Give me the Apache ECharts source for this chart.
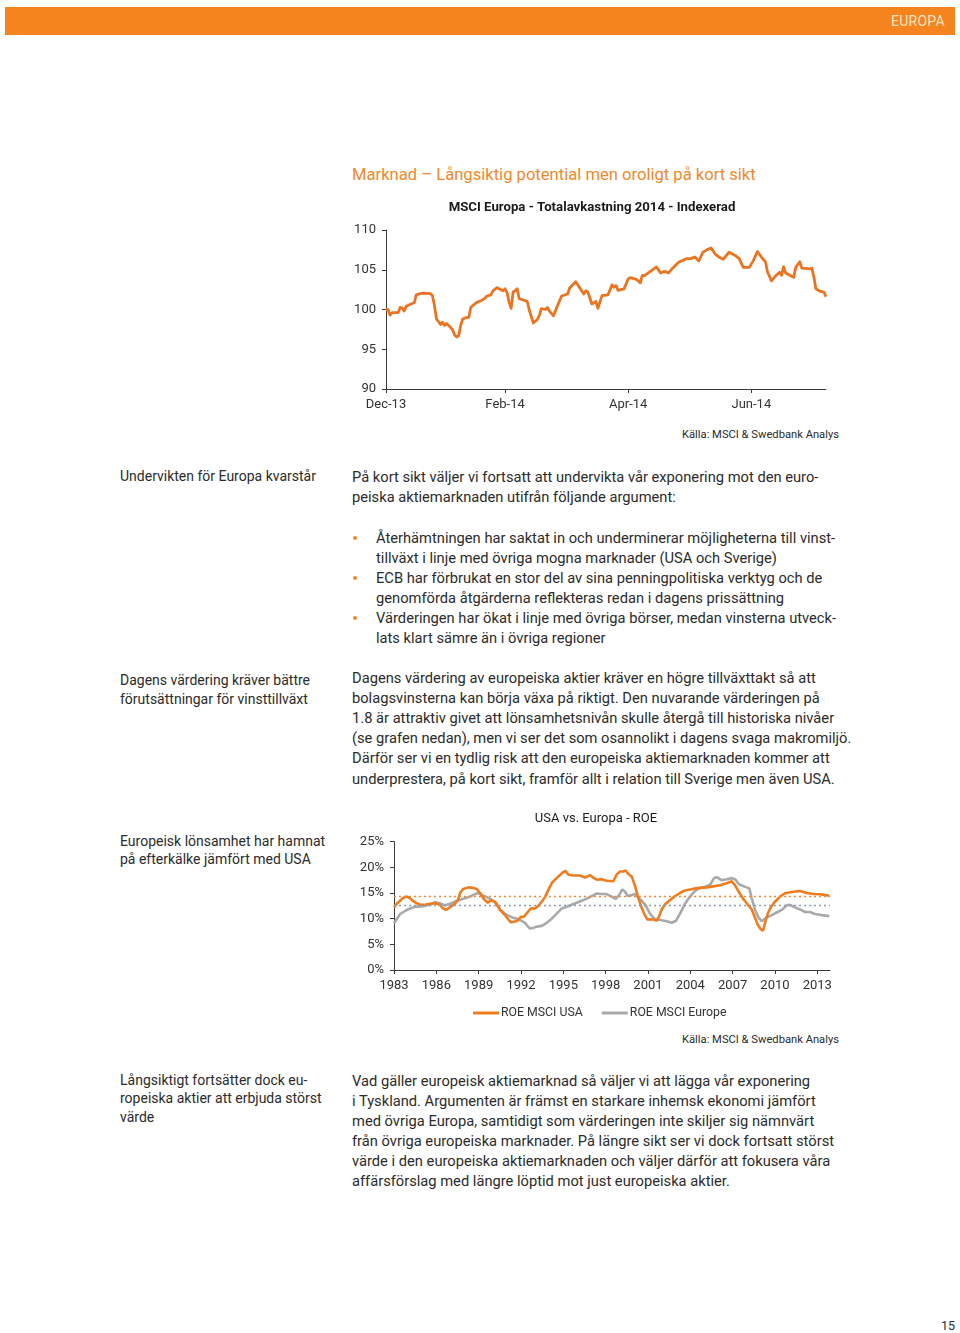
<!DOCTYPE html>
<html>
<head>
<meta charset="utf-8">
<script src="https://cdn.jsdelivr.net/npm/echarts@6/dist/echarts.min.js"></script>
<style>
  html, body { margin: 0; padding: 0; background: #fff; }
  body { width: 960px; height: 1333px; position: relative; overflow: hidden; font-family: Roboto, "Noto Sans", sans-serif; color: #2b2b2b; }
  .t { position: absolute; white-space: nowrap; line-height: 20px; height: 20px; }
  .body { font-size: 14.7px; }
  .side { font-size: 14px; }
  .dot { position: absolute; width: 4px; height: 4px; border-radius: 2px; background: #f0892a; }
  #bar { position: absolute; left: 5px; top: 7px; width: 950px; height: 28px; background: #f5841f; }
  #bar span { position: absolute; right: 10px; top: 6px; font-size: 14px; color: #fde3c2; letter-spacing: 0.3px; }
  #c1 { position: absolute; left: 340px; top: 195px; width: 510px; height: 225px; }
  #c2 { position: absolute; left: 340px; top: 800px; width: 510px; height: 232px; }
</style>
</head>
<body>
<div id="bar"><span>EUROPA</span></div>
<div id="texts"></div>
<div id="c1"></div>
<div id="c2"></div>
<script>
// ---------- Chart 1 data: MSCI Europa total return 2014, indexed ----------
const msciDates = [
 '2013-12-31','2014-01-01','2014-01-02','2014-01-03','2014-01-06','2014-01-07','2014-01-08','2014-01-09','2014-01-10','2014-01-13',
 '2014-01-14','2014-01-15','2014-01-17','2014-01-18','2014-01-22','2014-01-23','2014-01-24','2014-01-25','2014-01-26','2014-01-27',
 '2014-01-28','2014-01-29','2014-01-30','2014-01-31','2014-02-02','2014-02-03','2014-02-04','2014-02-05','2014-02-06','2014-02-07',
 '2014-02-09','2014-02-10','2014-02-11','2014-02-12','2014-02-14','2014-02-16','2014-02-18','2014-02-19','2014-02-21','2014-02-22',
 '2014-02-24','2014-02-25','2014-02-27','2014-02-28','2014-03-01','2014-03-02','2014-03-03','2014-03-04','2014-03-05','2014-03-06',
 '2014-03-07','2014-03-09','2014-03-11','2014-03-12','2014-03-14','2014-03-16','2014-03-17','2014-03-18','2014-03-20','2014-03-21',
 '2014-03-22','2014-03-24','2014-03-26','2014-03-28','2014-03-31','2014-04-01','2014-04-04','2014-04-05','2014-04-08','2014-04-09',
 '2014-04-10','2014-04-12','2014-04-14','2014-04-15','2014-04-17','2014-04-20','2014-04-22','2014-04-23','2014-04-24','2014-04-25',
 '2014-04-28','2014-04-30','2014-05-01','2014-05-04','2014-05-06','2014-05-07','2014-05-08','2014-05-11','2014-05-14','2014-05-16',
 '2014-05-18','2014-05-20','2014-05-22','2014-05-25','2014-05-29','2014-05-31','2014-06-02','2014-06-04','2014-06-06','2014-06-08',
 '2014-06-10','2014-06-11','2014-06-12','2014-06-14','2014-06-16','2014-06-19','2014-06-22','2014-06-24','2014-06-26','2014-06-29',
 '2014-07-01','2014-07-03','2014-07-05','2014-07-07','2014-07-08','2014-07-10','2014-07-12','2014-07-14','2014-07-15','2014-07-16',
 '2014-07-17','2014-07-21','2014-07-22','2014-07-24','2014-07-25','2014-07-29','2014-07-30','2014-07-31','2014-08-01','2014-08-03',
 '2014-08-05','2014-08-06'
];
const msciValues = [
 100.0,100.0,99.3,99.6,99.6,100.25,100.2,99.8,100.4,100.75,
 100.85,101.85,102.0,102.05,102.0,101.75,100.5,98.8,98.5,98.1,
 98.4,98.0,98.25,98.0,97.45,96.8,96.55,96.7,98.0,98.8,
 99.0,99.0,100.25,100.5,100.9,101.1,101.4,101.7,101.85,102.35,
 102.75,102.6,102.35,102.6,102.1,100.9,100.15,102.2,102.35,102.6,
 101.35,101.2,101.0,99.9,98.3,98.75,99.25,100.1,100.0,100.25,
 99.8,99.2,100.5,101.7,101.95,102.7,103.5,103.1,101.95,102.35,
 102.2,100.7,101.0,100.15,101.75,101.85,103.1,102.8,103.0,102.4,
 102.6,103.85,104.0,103.8,103.35,104.3,104.25,104.8,105.35,104.6,
 104.8,104.6,105.2,105.95,106.4,106.4,106.6,106.1,107.2,107.5,
 107.75,107.4,107.0,106.6,106.3,107.2,106.8,106.4,105.3,105.3,
 106.15,107.3,106.6,106.0,104.75,103.6,104.2,104.7,104.3,105.4,
 104.6,104.05,105.3,106.0,105.2,105.1,105.2,104.05,102.6,102.3,
 102.2,101.6
];
const msciStartDate = '2013-12-31';
const msciEndDate = '2014-08-06';
const msciTickDates = ['2013-12-31','2014-02-28','2014-04-30','2014-06-30'];
const msciTickLabels = ['Dec-13','Feb-14','Apr-14','Jun-14'];

// ---------- Chart 2 data: ROE MSCI USA vs ROE MSCI Europe ----------
const usaYears = [
 1983.00,1983.19,1983.43,1983.66,1983.92,1984.13,1984.37,1984.61,1984.91,1985.20,
 1985.55,1985.91,1986.26,1986.47,1986.69,1986.90,1987.11,1987.32,1987.54,1987.68,
 1987.91,1988.27,1988.62,1988.86,1989.10,1989.38,1989.64,1989.87,1990.16,1990.51,
 1990.87,1991.11,1991.29,1991.50,1991.75,1991.97,1992.21,1992.48,1992.71,1992.99,
 1993.23,1993.47,1993.70,1993.99,1994.20,1994.41,1994.64,1995.00,1995.17,1995.35,
 1995.71,1996.18,1996.54,1996.89,1997.12,1997.37,1997.72,1998.07,1998.54,1998.78,
 1999.02,1999.25,1999.42,1999.61,1999.85,2000.08,2000.27,2000.51,2000.74,2000.97,
 2001.14,2001.45,2001.62,2001.78,2001.97,2002.21,2002.56,2002.92,2003.27,2003.62,
 2003.98,2004.33,2004.69,2005.16,2005.63,2006.10,2006.58,2006.93,2007.17,2007.40,
 2007.71,2008.00,2008.35,2008.59,2008.78,2009.01,2009.17,2009.29,2009.49,2009.72,
 2010.00,2010.36,2010.71,2011.19,2011.77,2012.25,2012.72,2013.19,2013.55,2013.85
];
const usaRoe = [
 12.2,12.9,13.5,14.1,14.3,14.0,13.4,13.0,12.7,12.7,
 12.9,13.0,12.7,12.0,11.7,12.1,12.5,12.9,13.7,15.0,
 15.8,16.1,16.0,15.8,15.0,13.8,13.1,13.6,13.3,11.7,
 10.7,9.8,9.3,9.4,9.6,10.3,10.4,11.3,12.0,12.0,
 12.5,13.3,14.2,15.9,17.0,17.6,18.2,19.1,19.3,18.6,
 18.4,18.4,18.0,18.5,18.0,17.6,17.7,17.4,17.3,18.6,
 19.2,19.2,19.4,18.7,18.2,16.4,14.5,12.4,10.9,9.8,
 9.9,9.8,9.6,10.4,11.8,12.8,13.6,14.4,15.0,15.5,
 15.7,15.9,16.0,16.1,16.3,16.5,16.9,17.3,16.5,15.4,
 14.0,13.0,11.8,10.2,8.8,7.9,7.7,9.1,11.0,12.3,
 13.3,14.3,14.95,15.2,15.4,15.0,14.8,14.75,14.6,14.5
];
const europeYears = [
 1983.00,1983.19,1983.43,1983.78,1984.13,1984.49,1984.84,1985.20,1985.55,1985.91,
 1986.26,1986.61,1986.97,1987.32,1987.68,1988.03,1988.39,1988.74,1988.97,1989.22,
 1989.57,1989.92,1990.28,1990.51,1990.82,1991.10,1991.34,1991.70,1992.00,1992.28,
 1992.48,1992.64,1992.85,1993.11,1993.47,1993.82,1994.18,1994.53,1994.89,1995.24,
 1995.59,1995.95,1996.30,1996.66,1997.01,1997.37,1997.72,1998.07,1998.43,1998.71,
 1998.95,1999.18,1999.37,1999.56,1999.85,2000.08,2000.31,2000.55,2000.84,2001.14,
 2001.43,2001.62,2001.97,2002.33,2002.68,2002.99,2003.27,2003.62,2003.98,2004.33,
 2004.69,2005.04,2005.40,2005.68,2005.87,2006.22,2006.58,2006.93,2007.17,2007.45,
 2007.88,2008.18,2008.35,2008.59,2008.82,2009.06,2009.36,2009.77,2010.12,2010.48,
 2010.83,2011.07,2011.42,2011.77,2012.13,2012.48,2012.84,2013.31,2013.85
];
const europeRoe = [
 9.1,9.9,10.9,11.5,12.0,12.3,12.4,12.5,12.7,13.2,
 13.0,12.6,12.9,13.3,13.7,14.0,14.3,14.8,15.0,14.6,
 14.2,13.7,12.9,11.8,11.05,10.6,10.3,10.0,9.65,9.2,
 8.5,8.1,8.2,8.45,8.6,9.2,10.0,11.0,12.0,12.3,
 12.7,13.1,13.5,13.9,14.4,14.9,14.8,14.8,14.3,13.85,
 14.6,15.7,15.3,14.4,14.6,14.8,14.1,13.5,12.6,11.0,
 10.0,9.9,9.7,9.5,9.2,9.6,11.0,12.9,14.3,15.4,
 16.0,16.2,16.6,17.9,18.1,17.5,17.7,17.9,17.7,16.7,
 16.2,15.9,14.0,11.7,10.3,9.5,10.1,10.7,11.2,11.7,
 12.6,12.7,12.2,11.8,11.3,11.3,10.9,10.7,10.5
];
const roeAverages = [14.3, 12.6];           // long-run averages (USA, Europe), dotted lines
const roeYearTicks = [1983,1986,1989,1992,1995,1998,2001,2004,2007,2010,2013];
const roeSeriesNames = ['ROE MSCI USA', 'ROE MSCI Europe'];

// ---------- Page text ----------
const texts = [
  [352, 175, 'Marknad – Långsiktig potential men oroligt på kort sikt', '', 'font-size:16.6px;color:#f0882a;'],
  [120, 476, 'Undervikten för Europa kvarstår', 'side', ''],
  [352, 477, 'På kort sikt väljer vi fortsatt att undervikta vår exponering mot den euro-', 'body', ''],
  [352, 497, 'peiska aktiemarknaden utifrån följande argument:', 'body', ''],
  [376, 538, 'Återhämtningen har saktat in och underminerar möjligheterna till vinst-', 'body', ''],
  [376, 558, 'tillväxt i linje med övriga mogna marknader (USA och Sverige)', 'body', ''],
  [376, 578, 'ECB har förbrukat en stor del av sina penningpolitiska verktyg och de', 'body', ''],
  [376, 598, 'genomförda åtgärderna reflekteras redan i dagens prissättning', 'body', ''],
  [376, 618, 'Värderingen har ökat i linje med övriga börser, medan vinsterna utveck-', 'body', ''],
  [376, 638, 'lats klart sämre än i övriga regioner', 'body', ''],
  [120, 680, 'Dagens värdering kräver bättre', 'side', ''],
  [120, 699, 'förutsättningar för vinsttillväxt', 'side', ''],
  [352, 678, 'Dagens värdering av europeiska aktier kräver en högre tillväxttakt så att', 'body', ''],
  [352, 698, 'bolagsvinsterna kan börja växa på riktigt. Den nuvarande värderingen på', 'body', ''],
  [352, 718, '1.8 är attraktiv givet att lönsamhetsnivån skulle återgå till historiska nivåer', 'body', ''],
  [352, 738, '(se grafen nedan), men vi ser det som osannolikt i dagens svaga makromiljö.', 'body', ''],
  [352, 758, 'Därför ser vi en tydlig risk att den europeiska aktiemarknaden kommer att', 'body', ''],
  [352, 779, 'underprestera, på kort sikt, framför allt i relation till Sverige men även USA.', 'body', ''],
  [120, 841, 'Europeisk lönsamhet har hamnat', 'side', ''],
  [120, 859, 'på efterkälke jämfört med USA', 'side', ''],
  [120, 1080, 'Långsiktigt fortsätter dock eu-', 'side', ''],
  [120, 1098, 'ropeiska aktier att erbjuda störst', 'side', ''],
  [120, 1117, 'värde', 'side', ''],
  [352, 1081, 'Vad gäller europeisk aktiemarknad så väljer vi att lägga vår exponering', 'body', ''],
  [352, 1101, 'i Tyskland. Argumenten är främst en starkare inhemsk ekonomi jämfört', 'body', ''],
  [352, 1121, 'med övriga Europa, samtidigt som värderingen inte skiljer sig nämnvärt', 'body', ''],
  [352, 1141, 'från övriga europeiska marknader. På längre sikt ser vi dock fortsatt störst', 'body', ''],
  [352, 1161, 'värde i den europeiska aktiemarknaden och väljer därför att fokusera våra', 'body', ''],
  [352, 1181, 'affärsförslag med längre löptid mot just europeiska aktier.', 'body', '']
];
const rightTexts = [
  [839, 435, 'Källa: MSCI & Swedbank Analys', 'font-size:11.2px;'],
  [839, 1040, 'Källa: MSCI & Swedbank Analys', 'font-size:11.2px;'],
  [955, 1326, '15', 'font-size:12.5px;']
];
const bulletYs = [538, 578, 618];

const host = document.getElementById('texts');
texts.forEach(([x, y, s, cls, st]) => {
  const d = document.createElement('div');
  d.className = 't ' + cls;
  d.style.cssText = `left:${x}px;top:${y - 10}px;` + st;
  d.textContent = s;
  host.appendChild(d);
});
rightTexts.forEach(([r, y, s, st]) => {
  const d = document.createElement('div');
  d.className = 't';
  d.style.cssText = `right:${960 - r}px;top:${y - 10}px;` + st;
  d.textContent = s;
  host.appendChild(d);
});
bulletYs.forEach(y => {
  const d = document.createElement('div');
  d.className = 'dot';
  d.style.cssText = `left:353px;top:${y - 2}px;`;
  host.appendChild(d);
});

// ---------- helpers ----------
const DAY = 86400000;
function toUTC(s) { const [y, m, d] = s.split('-').map(Number); return Date.UTC(y, m - 1, d); }
const t0 = toUTC(msciStartDate);
function dayOf(s) { return Math.round((toUTC(s) - t0) / DAY); }
const FONT = 'Roboto';
const axisColor = '#3a3a3a';
const labelColor = '#333';

// ---------- Chart 1 ----------
const c1 = echarts.init(document.getElementById('c1'), null, { renderer: 'canvas' });
const tickDays = msciTickDates.map(dayOf);
c1.setOption({
  animation: false,
  textStyle: { fontFamily: FONT },
  graphic: [{
    type: 'text', x: 252, y: 13,
    style: {
      text: 'MSCI Europa - Totalavkastning 2014 - Indexerad',
      align: 'center', verticalAlign: 'middle',
      font: 'bold 13.2px Roboto', fill: '#1a1a1a'
    }
  }],
  grid: { left: 46, top: 35, width: 440, height: 159 },
  xAxis: {
    type: 'value',
    min: 0, max: dayOf(msciEndDate),
    axisLine: { lineStyle: { color: axisColor, width: 1 } },
    axisTick: { show: true, length: 4, lineStyle: { color: axisColor }, customValues: tickDays },
    axisLabel: {
      customValues: tickDays, color: labelColor, fontSize: 13, margin: 9,
      formatter: (v) => { const i = tickDays.indexOf(v); return i >= 0 ? msciTickLabels[i] : ''; }
    },
    splitLine: { show: false }
  },
  yAxis: {
    type: 'value', min: 90, max: 110, interval: 5,
    axisLine: { show: true, lineStyle: { color: axisColor, width: 1 } },
    axisTick: { show: true, length: 4, lineStyle: { color: axisColor } },
    axisLabel: { color: labelColor, fontSize: 13, margin: 10 },
    splitLine: { show: false }
  },
  series: [{
    type: 'line',
    data: msciDates.map((d, i) => [dayOf(d), msciValues[i]]),
    showSymbol: false, symbol: 'none',
    lineStyle: { color: '#ec7320', width: 2.8, join: 'round' }
  }]
});

// ---------- Chart 2 ----------
const c2 = echarts.init(document.getElementById('c2'), null, { renderer: 'canvas' });
const usaColor = '#f07c1e', eurColor = '#a9a9a9';
c2.setOption({
  animation: false,
  textStyle: { fontFamily: FONT },
  graphic: [{
    type: 'text', x: 256, y: 19,
    style: {
      text: 'USA vs. Europa - ROE',
      align: 'center', verticalAlign: 'middle',
      font: '13px Roboto', fill: '#1a1a1a'
    }
  }],
  legend: {
    data: roeSeriesNames,
    left: 128, top: 202,
    icon: 'rect', itemWidth: 26, itemHeight: 3, itemGap: 19,
    textStyle: { color: labelColor, fontSize: 12.3, padding: [0, 0, 0, -3] }
  },
  grid: { left: 54, top: 41.7, width: 436, height: 128.3 },
  xAxis: {
    type: 'value', min: 1983, max: 2013.9,
    axisLine: { lineStyle: { color: axisColor, width: 1 } },
    axisTick: { show: true, length: 4, lineStyle: { color: axisColor }, customValues: roeYearTicks },
    axisLabel: { customValues: roeYearTicks, color: labelColor, fontSize: 13, margin: 9, formatter: (v) => String(v) },
    splitLine: { show: false }
  },
  yAxis: {
    type: 'value', min: 0, max: 25, interval: 5,
    axisLine: { show: true, lineStyle: { color: axisColor, width: 1 } },
    axisTick: { show: true, length: 4, lineStyle: { color: axisColor } },
    axisLabel: { color: labelColor, fontSize: 13, margin: 10, formatter: '{value}%' },
    splitLine: { show: false }
  },
  series: [
    {
      name: roeSeriesNames[1], type: 'line', z: 2,
      data: europeYears.map((y, i) => [y, europeRoe[i]]),
      showSymbol: false, symbol: 'none',
      lineStyle: { color: eurColor, width: 2.6 }, itemStyle: { color: eurColor },
      markLine: {
        silent: true, symbol: 'none', label: { show: false },
        lineStyle: { color: '#8e9db2', type: [2, 3], width: 1.3 },
        data: [{ yAxis: roeAverages[1] }]
      }
    },
    {
      name: roeSeriesNames[0], type: 'line', z: 3,
      data: usaYears.map((y, i) => [y, usaRoe[i]]),
      showSymbol: false, symbol: 'none',
      lineStyle: { color: usaColor, width: 2.6 }, itemStyle: { color: usaColor },
      markLine: {
        silent: true, symbol: 'none', label: { show: false },
        lineStyle: { color: '#ee8a3c', type: [2, 3], width: 1.3 },
        data: [{ yAxis: roeAverages[0] }]
      }
    }
  ]
});
</script>
</body>
</html>
